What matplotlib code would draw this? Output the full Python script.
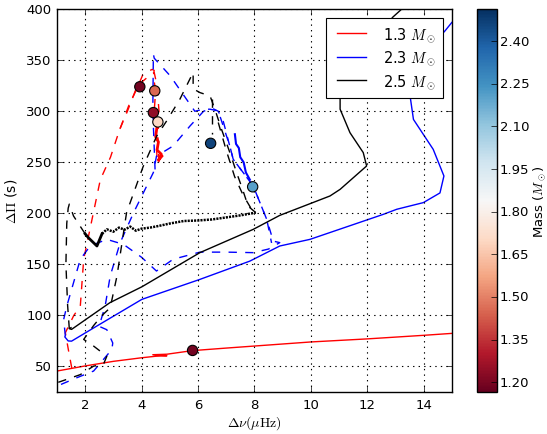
import numpy as np
import matplotlib
matplotlib.use("Agg")
import matplotlib.pyplot as plt

plt.style.use('classic')
plt.rcParams['mathtext.fontset'] = 'cm'
plt.rcParams['figure.facecolor'] = 'white'
plt.rcParams['savefig.facecolor'] = 'white'
plt.rcParams['font.size'] = 9.5

# ---- 1.3 Msun track ----
red_solid_x = [1.0, 2.0, 3.0, 4.0, 4.5, 4.9, 4.4, 4.9, 5.8, 7.0, 8.0, 10.0, 12.0, 14.0, 15.0]
red_solid_y = [45.5, 50.5, 55.0, 58.5, 60.0, 60.5, 61.5, 62.0, 65.5, 68.0, 70.0, 74.0, 77.0, 80.5, 82.4]
red_flash_x = [4.45, 4.55, 4.50, 4.60, 4.55, 4.70, 4.60, 4.72]
red_flash_y = [295.0, 285.0, 275.0, 270.0, 262.0, 258.0, 252.0, 256.0]
red_dash1_x = [4.55, 4.50, 4.45, 4.50, 4.42, 4.45, 4.38, 4.30, 4.20, 4.05, 3.80, 3.54, 3.20, 2.90, 2.54, 2.29, 1.95, 1.83, 1.60, 1.30, 1.41, 1.53]
red_dash1_y = [255.0, 280.0, 300.0, 320.0, 335.0, 340.0, 341.0, 340.0, 338.0, 336.0, 320.0, 305.0, 280.0, 255.0, 233.0, 200.0, 155.0, 109.0, 100.0, 83.0, 66.0, 48.0]
red_dash2_x = [4.62, 4.58, 4.62, 4.55, 4.45, 4.20, 3.85, 3.50, 3.13]
red_dash2_y = [250.0, 275.0, 300.0, 325.0, 338.0, 333.0, 325.0, 300.0, 276.0]

# ---- 2.3 Msun track ----
blue_solid_x = [1.30, 1.28, 1.40, 1.52, 2.41, 4.01, 6.07, 7.84, 8.90, 9.97, 12.57, 13.05, 13.99, 14.58, 14.72, 14.34, 13.64, 13.52, 13.8, 14.76, 15.0]
blue_solid_y = [80.0, 79.0, 75.0, 74.8, 89.5, 115.7, 135.3, 153.2, 168.0, 174.5, 199.0, 204.0, 210.5, 220.0, 236.6, 262.7, 292.0, 315.0, 350.0, 378.8, 387.0]
blue_dash1_x = [1.30, 1.24, 1.35, 1.60, 1.83, 2.18, 2.77, 3.36, 4.00, 4.53, 5.12, 6.07, 7.00, 7.96, 8.50, 8.90, 8.67, 8.44, 7.96, 7.25, 6.90, 6.72, 6.50, 6.20, 5.72, 5.12, 4.53, 4.42,
               3.72, 3.24, 2.89, 2.71, 2.55, 2.48, 2.77, 2.98, 2.95, 2.60, 2.30, 1.71, 1.00]
blue_dash1_y = [80.0, 96.0, 109.0, 133.0, 155.0, 168.0, 174.5, 169.6, 157.0, 143.5, 155.0, 162.0, 162.0, 161.5, 165.0, 171.3, 172.8, 194.0, 226.8, 253.0, 290.0, 300.0, 303.0, 300.0, 285.6, 266.0, 256.0, 240.0,
               200.7, 171.0, 138.6, 109.0, 94.4, 89.5, 86.0, 73.0, 66.7, 55.2, 45.5, 39.0, 30.7]
blue_dash2_x = [4.48, 4.40, 4.42, 4.45, 5.02, 5.89, 6.20, 6.43, 6.72, 7.13, 7.25, 7.60, 7.96, 8.44, 8.61]
blue_dash2_y = [243.0, 300.0, 356.0, 352.0, 334.6, 300.0, 302.0, 302.0, 300.3, 266.0, 253.0, 240.0, 226.8, 194.0, 171.0]
blue_zig_x = [7.31, 7.35, 7.45, 7.50, 7.62, 7.70, 7.84]
blue_zig_y = [277.5, 268.0, 264.0, 255.0, 250.0, 240.0, 233.0]

# ---- 2.5 Msun track ----
black_solid_x = [1.50, 1.44, 1.52, 2.88, 4.01, 6.07, 7.96, 8.90, 10.68, 11.04, 11.98, 11.86, 11.39, 11.04, 11.04, 12.3, 12.9, 13.3]
black_solid_y = [88.0, 87.0, 86.3, 112.5, 128.0, 161.5, 184.3, 198.0, 217.0, 223.5, 246.4, 259.5, 279.0, 302.0, 315.0, 370.0, 392.0, 402.0]
black_dash1_x = [1.44, 1.38, 1.32, 1.35, 1.40, 1.44, 1.59, 2.00]
black_dash1_y = [87.0, 110.0, 150.0, 190.0, 205.0, 209.0, 197.4, 180.0]
black_thick_x = [2.00, 2.12, 2.42, 2.60]
black_thick_y = [180.0, 176.0, 168.0, 180.0]
black_zig_x = [2.60, 2.77, 3.00, 3.20, 3.40, 3.60, 3.80, 4.00, 4.30, 4.60, 5.00, 5.50, 6.00, 6.50, 7.00, 7.50, 8.05]
black_zig_y = [180.0, 184.3, 182.0, 186.0, 184.0, 187.0, 183.0, 185.0, 186.0, 187.6, 190.0, 192.5, 193.0, 194.0, 196.0, 198.0, 200.7]
black_dash2_x = [8.05, 7.78, 7.60, 7.37, 7.10, 6.84, 6.60, 6.43, 6.07, 5.83, 5.83, 5.36, 4.89, 4.54, 4.06, 3.47, 3.13, 2.89, 2.60, 2.30, 1.95, 2.30, 2.77, 2.65, 2.30, 1.83, 1.00]
black_dash2_y = [200.7, 207.0, 222.0, 240.0, 262.0, 282.0, 302.0, 315.0, 318.3, 322.0, 338.0, 311.8, 290.5, 275.8, 246.0, 200.7, 138.6, 107.5, 100.0, 90.0, 76.5, 70.0, 60.0, 52.0, 50.3, 42.0, 34.0]
black_dash3_x = [6.72, 7.00, 7.30, 7.60, 7.90]
black_dash3_y = [289.0, 262.0, 236.0, 218.0, 204.0]
black_tick_x = [6.50, 6.50]
black_tick_y = [312.0, 277.5]

# ---- observed stars ----
star_dnu = [3.94, 4.47, 4.42, 4.58, 6.45, 7.94, 5.81]
star_dpi = [324.0, 320.0, 298.7, 289.5, 268.6, 226.0, 65.7]
star_mass = [1.19, 1.45, 1.24, 1.70, 2.46, 2.21, 1.19]

fig = plt.figure(figsize=(5.47, 4.35), dpi=100)
ax = fig.add_axes([0.104, 0.0966, 0.722, 0.880])
cax = fig.add_axes([0.872, 0.0966, 0.0366, 0.880])

ax.plot(red_solid_x, red_solid_y, '-', color='red', lw=1, label=r'1.3 $M_\odot$')
ax.plot(red_flash_x, red_flash_y, '-', color='red', lw=2)
ax.plot(red_dash1_x, red_dash1_y, '--', color='red', lw=1)
ax.plot(red_dash2_x, red_dash2_y, '--', color='red', lw=1)

ax.plot(blue_solid_x, blue_solid_y, '-', color='blue', lw=1, label=r'2.3 $M_\odot$')
ax.plot(blue_dash1_x, blue_dash1_y, '--', color='blue', lw=1)
ax.plot(blue_dash2_x, blue_dash2_y, '--', color='blue', lw=1)
ax.plot(blue_zig_x, blue_zig_y, '-', color='blue', lw=1.5)

ax.plot(black_solid_x, black_solid_y, '-', color='black', lw=1, label=r'2.5 $M_\odot$')
ax.plot(black_dash1_x, black_dash1_y, '--', color='black', lw=1)
ax.plot(black_thick_x, black_thick_y, '-', color='black', lw=2)
ax.plot(black_zig_x, black_zig_y, '-', color='black', lw=1.8, dashes=(1.5, 0.8))
ax.plot(black_dash2_x, black_dash2_y, '--', color='black', lw=1)
ax.plot(black_dash3_x, black_dash3_y, '--', color='black', lw=1)
ax.plot(black_tick_x, black_tick_y, '--', color='black', lw=1)

sc = ax.scatter(star_dnu, star_dpi, c=star_mass, cmap='RdBu', vmin=1.166, vmax=2.512,
                s=55, edgecolors='black', linewidths=0.8, zorder=5)

ax.set_xlim(1, 15)
ax.set_ylim(25, 400)
ax.set_xticks([2, 4, 6, 8, 10, 12, 14])
ax.set_yticks([50, 100, 150, 200, 250, 300, 350, 400])
ax.grid(True, color='black', linestyle=':', linewidth=0.8)
ax.set_xlabel(r'$\Delta\nu(\mu\mathrm{Hz})$', fontsize=10, labelpad=2)
ax.set_ylabel(r'$\Delta\Pi$ (s)', fontsize=10)

leg = ax.legend(loc='upper right', fontsize=10.5, handlelength=2.6, borderpad=0.5,
                labelspacing=0.35, borderaxespad=0.6, framealpha=1)
leg.get_frame().set_facecolor('white')
leg.get_frame().set_linewidth(0.8)
leg.set_zorder(10)

cb = fig.colorbar(sc, cax=cax)
cb.set_ticks([1.20, 1.35, 1.50, 1.65, 1.80, 1.95, 2.10, 2.25, 2.40])
cax.tick_params(pad=2)
cb.set_label(r'Mass ($M_\odot$)', fontsize=9.5, labelpad=1)

fig.savefig('out.png', dpi=100)
